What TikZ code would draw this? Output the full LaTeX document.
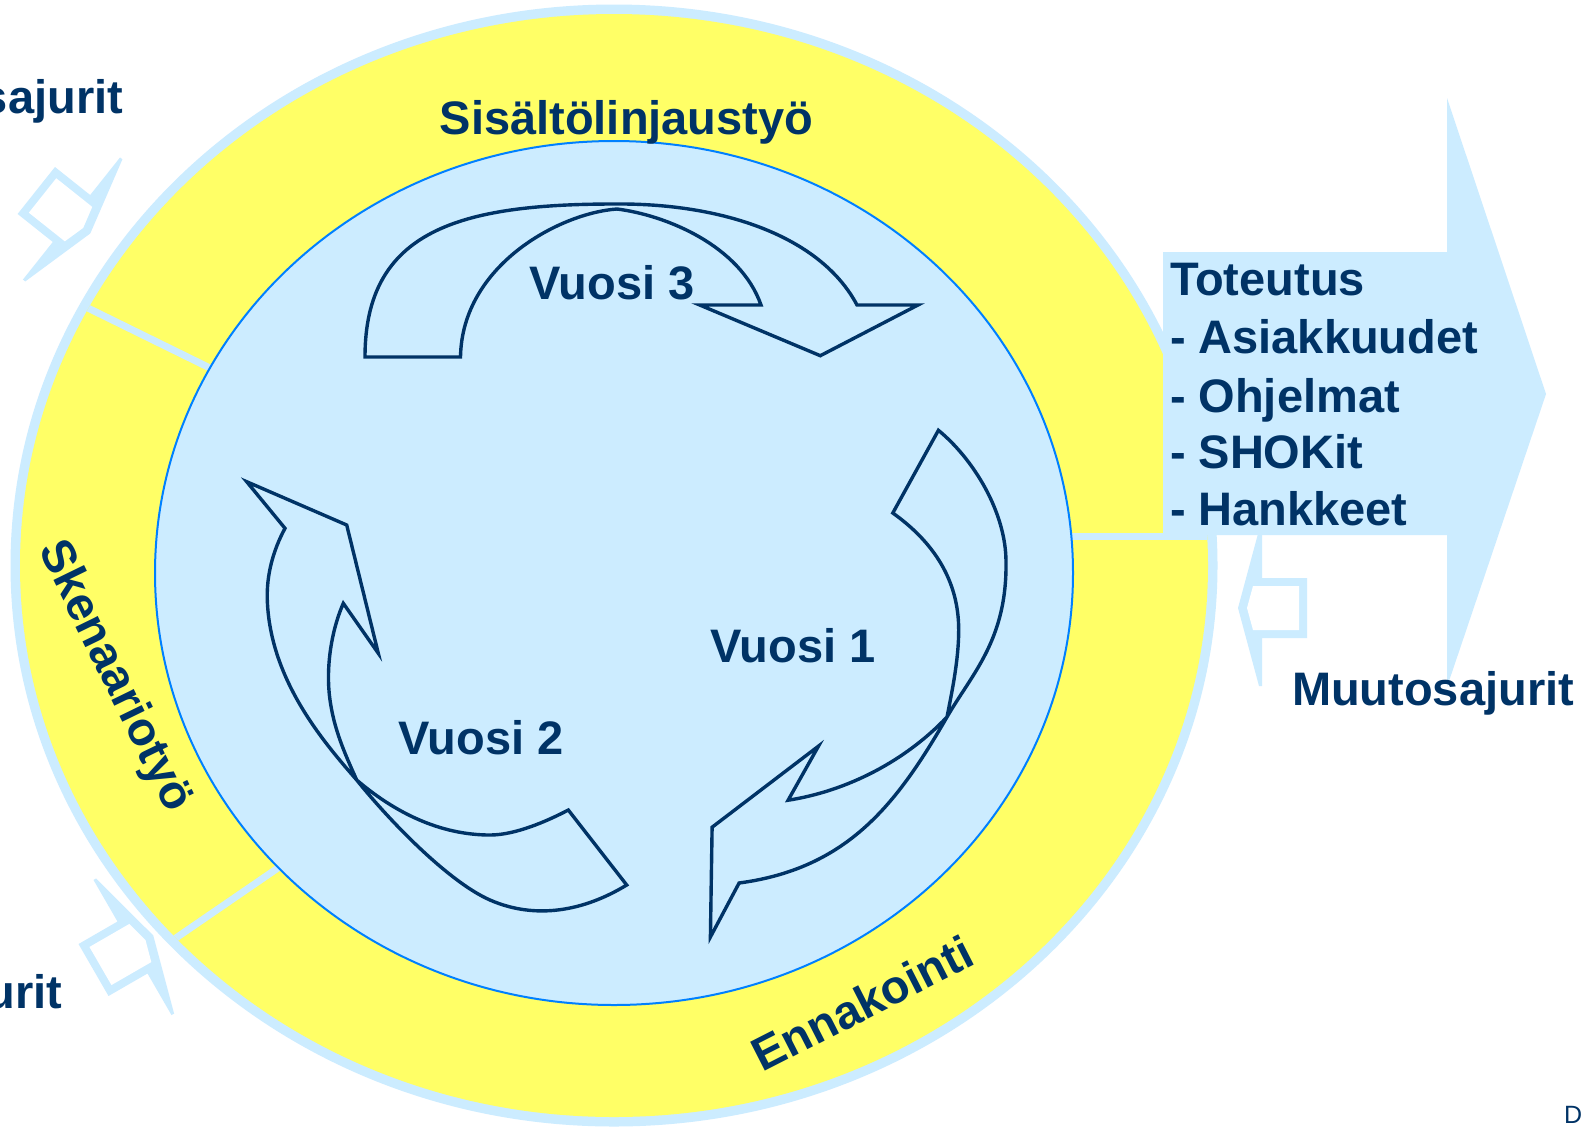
\documentclass[tikz,border=0pt]{standalone}
\usepackage{fontspec}
\setmainfont{Liberation Sans}
\definecolor{lb}{RGB}{204,236,255}
\definecolor{yl}{RGB}{255,255,102}
\definecolor{db}{RGB}{0,51,102}
\definecolor{rim}{RGB}{0,128,255}
\begin{document}
\begin{tikzpicture}[x=1pt,y=-1pt,
  lbl/.style={text=db,font=\fontsize{47}{56}\selectfont\bfseries,inner sep=0pt,outer sep=0pt},
  cyc/.style={draw=db,line width=3.4pt,line join=miter,miter limit=10},
  sep/.style={draw=lb,line width=7pt},
]
\clip (0,0) rectangle (1584,1128);
\fill[white] (0,0) rectangle (1584,1128);
% ring
\fill[lb] (614,565.5) ellipse[x radius=603.5pt,y radius=561pt];
\fill[yl] (614,565.5) ellipse[x radius=594pt,y radius=551.5pt];
\begin{scope}
  \clip (614,565.5) ellipse[x radius=594pt,y radius=551.5pt];
  \draw[sep] (60,294.3) -- (260,392.6);
  \draw[sep] (140,962.6) -- (320,839.1);
  \draw[sep] (1000,536) -- (1300,536);
\end{scope}
\filldraw[fill=lb,draw=rim,line width=2pt] (614,573) ellipse[x radius=459pt,y radius=432pt];
% big arrow
\fill[lb] (1163,252) -- (1447,252) -- (1447,98) -- (1546,394) -- (1447,687) -- (1447,535) -- (1163,535) -- cycle;
% indicators
\foreach \px/\py/\rot in {1262/608/0, 71.5/218.5/141.5, 132.5/947.5/-150}{
  \begin{scope}[shift={(\px,\py)},rotate=\rot]
    \fill[lb] (-24,0) -- (-3,-78) -- (0,-78) -- (0,-30) -- (45,-30) -- (45,30) -- (0,30) -- (0,78) -- (-3,78) -- cycle;
    \fill[white] (-15,0) -- (-9,-22) -- (37,-22) -- (37,22) -- (-9,22) -- cycle;
  \end{scope}
}
% Vuosi 3 arrow
\draw[cyc] (460.5,357) -- (365,357)
  .. controls (365,230) and (460,204) .. (615,204)
  .. controls (720,203) and (820,235) .. (857,305)
  -- (918,305) -- (820.3,355.7) -- (699.7,305) -- (761,305)
  .. controls (740,245) and (665,215) .. (617,209)
  .. controls (560,213) and (462,265) .. cycle;
% Vuosi 2 arrow
\draw[cyc] (246.7,481.7) -- (346.7,525) -- (378.3,653.3) -- (343.3,603.3)
  .. controls (330.3,633.3) and (325.8,670.3) .. (330,700)
  .. controls (334.2,729.7) and (344.4,752.7) .. (356.7,780)
  .. controls (394.7,812.5) and (440,835) .. (490,835)
  .. controls (515,835) and (546.2,821.6) .. (568.3,810)
  -- (626.7,885)
  .. controls (584,911) and (535.8,920) .. (490,900)
  .. controls (448.8,882) and (389.6,821) .. (356.7,780)
  .. controls (323.9,742.3) and (270,680) .. (267.3,600)
  .. controls (266.4,575) and (273.1,550.3) .. (285,528.3)
  -- cycle;
% Vuosi 1 arrow
\draw[cyc] (892.8,513) -- (938.4,430.3)
  .. controls (973.2,458.8) and (1006,512) .. (1006,562)
  .. controls (1007,640) and (972,673.6) .. (947,717)
  .. controls (897,803.6) and (848.1,868.4) .. (739.1,883)
  -- (710.4,937) -- (712.1,827.2) -- (818.5,746.1) -- (788.1,800.2)
  .. controls (847.4,791) and (905.6,760.8) .. (947,717)
  .. controls (951.8,692.5) and (958.7,660) .. (958.7,630)
  .. controls (958.7,580) and (933.4,542) .. cycle;
% texts
\node[lbl,anchor=base] (sis) at (626.5,134) {Sisältölinjaustyö};
\node[lbl,anchor=base west] (v3) at (529,299.5) {Vuosi 3};
\node[lbl,anchor=base west] (v1) at (710,662) {Vuosi 1};
\node[lbl,anchor=base west] (v2) at (398,754) {Vuosi 2};
\node[lbl,anchor=base,rotate=-64] (sk) at (103,682) {Skenaariotyö};
\node[lbl,anchor=base,rotate=27] (en) at (870,1018) {Ennakointi};
\node[lbl,anchor=base west] (t1) at (1170,295) {Toteutus};
\node[lbl,anchor=base west] (t2) at (1170,353) {- Asiakkuudet};
\node[lbl,anchor=base west] (t3) at (1170,412) {- Ohjelmat};
\node[lbl,anchor=base west] (t4) at (1170,468) {- SHOKit};
\node[lbl,anchor=base west] (t5) at (1170,525) {- Hankkeet};
\node[lbl,anchor=base east] (m1) at (1574,705) {Muutosajurit};
\node[lbl,anchor=base east] (m2) at (123,113) {Muutosajurit};
\node[lbl,anchor=base east] (m3) at (62,1008) {Muutosajurit};
\node[text=db,font=\fontsize{25}{30}\selectfont,anchor=base west,inner sep=0pt] (dd) at (1564,1123) {D};
\end{tikzpicture}
\end{document}
